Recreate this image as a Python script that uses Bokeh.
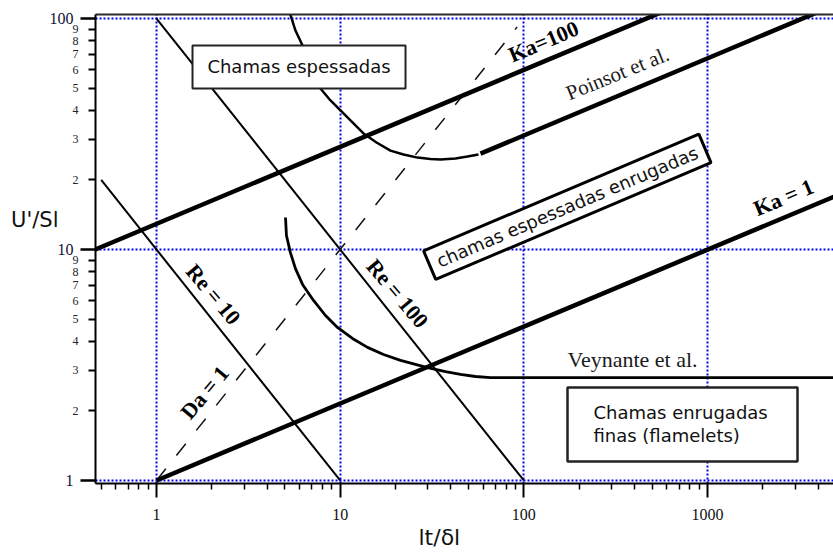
from bokeh.plotting import figure
from bokeh.models import FixedTicker, PrintfTickFormatter, CustomJSTickFormatter, LogAxis, Title
from bokeh.core.properties import value
from bokeh.embed import file_html
from bokeh.resources import INLINE

# ---------------- data ----------------
x_major_ticks = [1, 10, 100, 1000]
x_minor_ticks = [0.5, 0.6, 0.7, 0.8, 0.9, 2, 3, 4, 5, 6, 7, 8, 9,
                 20, 30, 40, 50, 60, 70, 80, 90,
                 200, 300, 400, 500, 600, 700, 800, 900, 2000, 3000, 4000]
y_major_ticks = [1, 10, 100]
y_minor_ticks = [2, 3, 4, 5, 6, 7, 8, 9, 20, 30, 40, 50, 60, 70, 80, 90]

# Ka = 1 and Ka = 100 boundaries (thick lines)
ka1_x = [1, 10000]
ka1_y = [1, 21.5]
ka100_x = [0.1, 1000]
ka100_y = [6.0, 129.0]

# Re = 10, Re = 100 lines
re10_x = [0.5, 10]
re10_y = [20, 1]
re100_x = [1, 100]
re100_y = [100, 1]

# Da = 1 (dashed)
da1_x = [1, 92]
da1_y = [1, 92]

# Poinsot et al. curve + straight limit
poinsot_curve_x = [5.17, 5.71, 6.24, 6.89, 7.81, 8.86, 10.04, 11.67, 13.40, 15.77,
                   18.79, 22.12, 26.36, 31.03, 35.17, 42.46, 49.35, 56.63]
poinsot_curve_y = [113.8, 88.7, 76.4, 62.6, 49.8, 44.2, 40.0, 35.5, 31.8, 29.05,
                   26.8, 25.8, 25.0, 24.65, 24.53, 24.77, 25.27, 25.78]
poinsot_line_x = [58.1, 5000]
poinsot_line_y = [26.0, 115.0]

# Veynante et al. curve
veynante_x = [5.04, 5.10, 5.36, 5.71, 6.24, 7.16, 8.32, 9.67, 11.67, 14.09, 17.22,
              21.31, 29.89, 37.45, 45.2, 54.56, 65.83, 5000]
veynante_y = [13.76, 11.5, 9.70, 8.27, 7.06, 6.02, 5.18, 4.60, 4.12, 3.77, 3.51,
              3.31, 3.08, 2.96, 2.88, 2.82, 2.79, 2.79]

# ---------------- figure ----------------
p = figure(width=833, height=552, x_axis_type="log", y_axis_type="log",
           x_range=(0.4655, 4853), y_range=(0.9705, 104.1),
           output_backend="svg", toolbar_location=None,
           min_border_left=95, min_border_right=0, min_border_top=14, min_border_bottom=69)
p.outline_line_color = None
p.background_fill_color = "white"

# grid: blue dotted at decades
p.xgrid.ticker = FixedTicker(ticks=x_major_ticks)
p.ygrid.ticker = FixedTicker(ticks=y_major_ticks)
for g in (p.xgrid[0], p.ygrid[0]):
    g.grid_line_color = "#0000f0"
    g.grid_line_dash = "2 2"
    g.grid_line_width = 2
    g.minor_grid_line_color = None

# bottom axis
xa = p.xaxis[0]
xa.ticker = FixedTicker(ticks=x_major_ticks, minor_ticks=x_minor_ticks)
xa.formatter = PrintfTickFormatter(format="%d")
xa.axis_line_width = 2
xa.axis_line_color = "black"
xa.major_tick_in = 0
xa.major_tick_out = 14
xa.minor_tick_in = 0
xa.minor_tick_out = 6
xa.major_tick_line_width = 2
xa.minor_tick_line_width = 1.5
xa.major_label_text_font = "Liberation Serif"
xa.major_label_text_font_size = "16px"
xa.major_label_text_color = "#111111"
xa.major_label_standoff = 11

# left axis (inner): small labels on 2..9 / 20..90, long unlabeled ticks on decades
ya = p.yaxis[0]
ya.ticker = FixedTicker(ticks=y_minor_ticks, minor_ticks=y_major_ticks)
ya.formatter = CustomJSTickFormatter(code="return String(tick).charAt(0);")
ya.axis_line_width = 2
ya.axis_line_color = "black"
ya.major_tick_in = 0
ya.major_tick_out = 7
ya.minor_tick_in = 0
ya.minor_tick_out = 15
ya.major_tick_line_width = 2
ya.minor_tick_line_width = 2.5
ya.major_label_text_font = "Liberation Serif"
ya.major_label_text_font_size = "12px"
ya.major_label_text_color = "#222222"
ya.major_label_standoff = 2

# left axis (outer): decade labels and the axis title
ya2 = LogAxis(ticker=FixedTicker(ticks=y_major_ticks, minor_ticks=[]),
              formatter=PrintfTickFormatter(format="%d"),
              axis_line_color=None, major_tick_out=0, major_tick_in=0,
              minor_tick_out=0, minor_tick_in=0,
              major_label_text_font="Liberation Serif", major_label_text_font_size="16px",
              major_label_text_color="#111133", major_label_standoff=-4,
              axis_label="U'/Sl\n\n", axis_label_orientation="horizontal",
              axis_label_standoff=-12, axis_label_text_font="DejaVu Sans",
              axis_label_text_font_size="21px", axis_label_text_font_style="normal",
              axis_label_text_color="#111111")
p.add_layout(ya2, "left")

# top border line
top = LogAxis(ticker=FixedTicker(ticks=[]), axis_line_width=2, axis_line_color="#2a2a2a",
              major_tick_out=0, major_tick_in=0, minor_tick_out=0, minor_tick_in=0,
              major_label_text_font_size="0px")
p.add_layout(top, "above")

# x-axis title
p.add_layout(Title(text="lt/δl", align="left", offset=323, standoff=0,
                   text_font="DejaVu Sans", text_font_size="22px",
                   text_font_style="normal", text_color="#111111"), "below")

# ---------------- lines ----------------
p.line(re10_x, re10_y, line_color="black", line_width=2)
p.line(re100_x, re100_y, line_color="black", line_width=2)
p.line(da1_x, da1_y, line_color="#111111", line_width=1.5, line_dash="15 17")
p.line(ka1_x, ka1_y, line_color="black", line_width=4.5)
p.line(ka100_x, ka100_y, line_color="black", line_width=4.5)
p.line(poinsot_curve_x, poinsot_curve_y, line_color="black", line_width=2.5)
p.line(poinsot_line_x, poinsot_line_y, line_color="black", line_width=4.5)
p.line(veynante_x, veynante_y, line_color="black", line_width=2.8)

# ---------------- boxes ----------------
p.rect(x=[5.97], y=[61.7], width=[213], height=[43], width_units="screen", height_units="screen",
       fill_color="white", line_color="#222222", line_width=2)
p.rect(x=[172.4], y=[15.31], width=[299], height=[31], angle=[0.401],
       width_units="screen", height_units="screen",
       fill_color="white", line_color="black", line_width=3)
p.rect(x=[731], y=[1.748], width=[230], height=[74], width_units="screen", height_units="screen",
       fill_color="white", line_color="#222222", line_width=2.5)

sans = value("DejaVu Sans")
serif = value("Liberation Serif")

p.text(x=[5.97], y=[61.7], text=["Chamas espessadas"], text_font=sans, text_font_size="18px",
       text_align="center", text_baseline="middle", text_color="#111111")
p.text(x=[172.4], y=[15.31], text=["chamas espessadas enrugadas"], angle=[0.401],
       text_font=sans, text_font_size="18px",
       text_align="center", text_baseline="middle", text_color="#111111")
p.text(x=[239.4, 239.4], y=[1.970, 1.566], text=["Chamas enrugadas", "finas (flamelets)"],
       text_font=sans, text_font_size="18px",
       text_align="left", text_baseline="middle", text_color="#111111")

# ---------------- serif labels ----------------
p.text(x=[127.9, 2593], y=[79.5, 16.8], text=["Ka=100", "Ka = 1"], angle=[0.401, 0.401],
       text_font=serif, text_font_style="bold", text_font_size="22px",
       text_align="center", text_baseline="middle", text_color="black")
p.text(x=[2.043, 20.52], y=[6.39, 6.45], text=["Re = 10", "Re = 100"], angle=[-0.87, -0.87],
       text_font=serif, text_font_style="bold", text_font_size="22px",
       text_align="center", text_baseline="middle", text_color="black")
p.text(x=[1.825], y=[2.404], text=["Da = 1"], angle=[0.87],
       text_font=serif, text_font_style="bold", text_font_size="22px",
       text_align="center", text_baseline="middle", text_color="black")
p.text(x=[323.6], y=[57.8], text=["Poinsot et al."], angle=[0.385],
       text_font=serif, text_font_size="21px",
       text_align="center", text_baseline="middle", text_color="#1a1a1a")
p.text(x=[390.5], y=[3.34], text=["Veynante et al."],
       text_font=serif, text_font_size="22px",
       text_align="center", text_baseline="middle", text_color="#1a1a1a")

open("out.html", "w").write(file_html(p, INLINE))
